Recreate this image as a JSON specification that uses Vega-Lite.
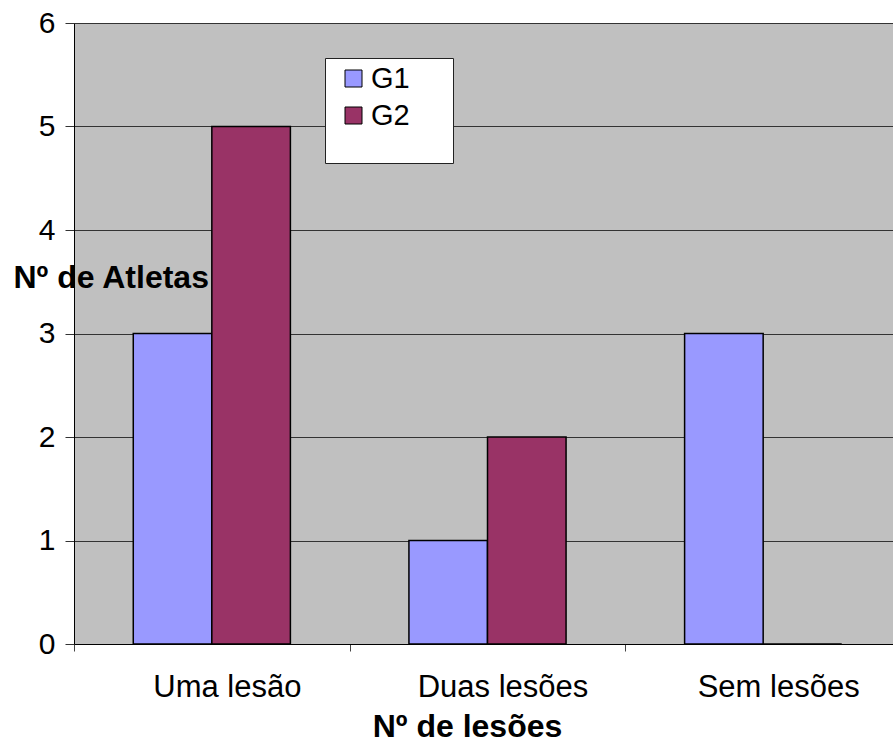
{
  "$schema": "https://vega.github.io/schema/vega-lite/v6.json",
  "autosize": {"type": "none"},
  "padding": {"left": 74, "top": 23, "right": 0, "bottom": 101},
  "width": 827,
  "height": 621,
  "background": "white",
  "data": {
    "values": [
      {"lesoes": "Uma lesão", "grupo": "G1", "atletas": 3},
      {"lesoes": "Uma lesão", "grupo": "G2", "atletas": 5},
      {"lesoes": "Duas lesões", "grupo": "G1", "atletas": 1},
      {"lesoes": "Duas lesões", "grupo": "G2", "atletas": 2},
      {"lesoes": "Sem lesões", "grupo": "G1", "atletas": 3},
      {"lesoes": "Sem lesões", "grupo": "G2", "atletas": 0}
    ]
  },
  "mark": {"type": "bar", "stroke": "black", "strokeWidth": 1.5},
  "encoding": {
    "x": {
      "field": "lesoes",
      "type": "nominal",
      "sort": ["Uma lesão", "Duas lesões", "Sem lesões"],
      "scale": {"paddingInner": 0.43, "paddingOuter": 0.215},
      "axis": {
        "title": "Nº de lesões",
        "labelAngle": 0,
        "labelFont": "Liberation Sans",
        "labelFontSize": 31,
        "labelColor": "black",
        "labelPadding": 21,
        "labelOffset": 152.8,
        "labelBaseline": "top",
        "tickOffset": -137.8,
        "tickSize": 7,
        "tickColor": "#444",
        "domainColor": "black",
        "domainWidth": 1,
        "titleFont": "Liberation Sans",
        "titleFontSize": 32,
        "titleFontWeight": "bold",
        "titleColor": "black",
        "titleX": 393,
        "titleY": 92,
        "titleAlign": "center",
        "titleBaseline": "alphabetic"
      }
    },
    "xOffset": {
      "field": "grupo",
      "type": "nominal",
      "scale": {"paddingInner": 0, "paddingOuter": 0}
    },
    "y": {
      "field": "atletas",
      "type": "quantitative",
      "scale": {"domain": [0, 6], "nice": false},
      "axis": {
        "title": "Nº de Atletas",
        "values": [0, 1, 2, 3, 4, 5, 6],
        "grid": true,
        "gridColor": "#333",
        "gridWidth": 1,
        "gridOpacity": 1,
        "labelFont": "Liberation Sans",
        "labelFontSize": 30,
        "labelColor": "black",
        "labelPadding": 10,
        "tickSize": 9,
        "tickColor": "#333",
        "domainColor": "black",
        "titleFont": "Liberation Sans",
        "titleFontSize": 32,
        "titleFontWeight": "bold",
        "titleColor": "black",
        "titleAngle": 0,
        "titleAlign": "left",
        "titleBaseline": "alphabetic",
        "titleX": -61,
        "titleY": 264
      }
    },
    "fill": {
      "field": "grupo",
      "type": "nominal",
      "scale": {"domain": ["G1", "G2"], "range": ["#9999FF", "#993366"]},
      "legend": {
        "orient": "none",
        "legendX": 251,
        "legendY": 35,
        "title": "\u2800\u2800\u2800\u2800\u2800\u2800",
        "titleFont": "DejaVu Sans",
        "titleOrient": "bottom",
        "titleFontSize": 24.6,
        "titlePadding": 2,
        "padding": 6,
        "fillColor": "white",
        "strokeColor": "#222",
        "symbolType": "square",
        "symbolSize": 289,
        "symbolStrokeColor": "black",
        "symbolStrokeWidth": 1,
        "symbolOffset": 8,
        "labelOffset": 3,
        "labelFont": "Liberation Sans",
        "labelFontSize": 29,
        "labelColor": "black",
        "rowPadding": 7
      }
    }
  },
  "config": {
    "view": {"fill": "#C0C0C0", "stroke": null},
    "axis": {"zindex": 1}
  }
}
